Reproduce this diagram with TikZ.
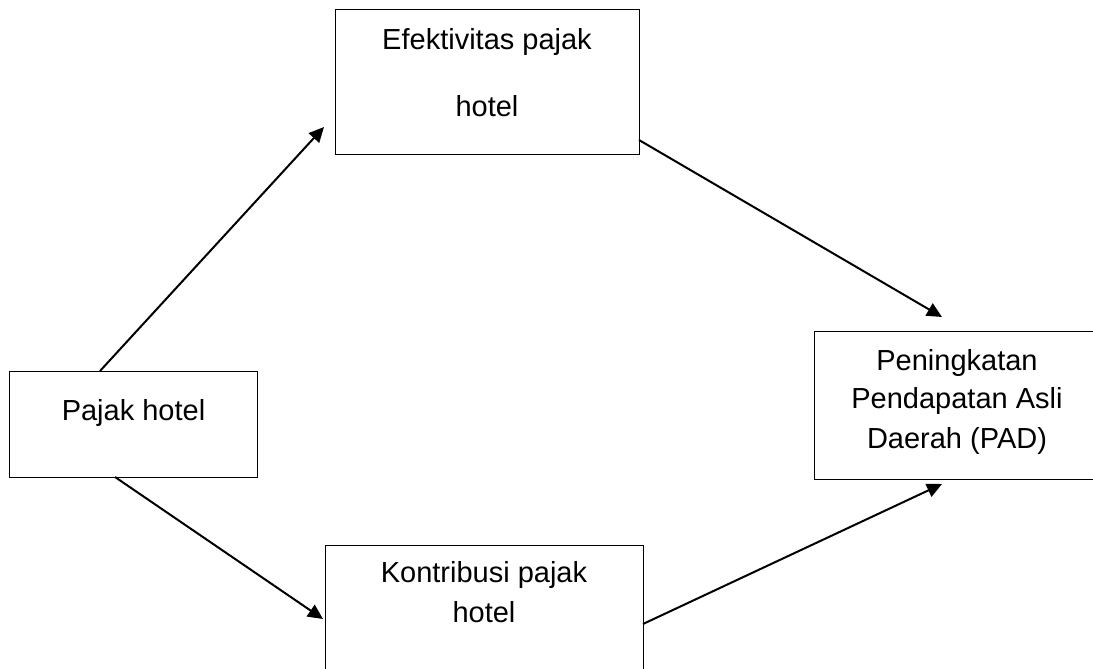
\documentclass[tikz,border=0pt]{standalone}
\usepackage{fontspec}
\setmainfont{Liberation Sans}
\usetikzlibrary{calc,arrows.meta}
\begin{document}
\begin{tikzpicture}[x=1pt,y=-1pt,
  box/.style={draw=black,line width=1pt,inner sep=0pt,outer sep=0pt},
  txt/.style={anchor=base,inner sep=0pt,font=\fontsize{29}{40}\selectfont},
  arr/.style={line width=2pt,-{Triangle[length=15pt,width=14pt]}}]
\clip (0,0) rectangle (1093,669);
\node[box,minimum width=304pt,minimum height=144pt] (E) at (487,82) {};
\node[box,minimum width=248pt,minimum height=106pt] (P) at (133,424) {};
\node[box,minimum width=318pt,minimum height=150pt] (K) at (484,620) {};
\node[box,minimum width=280pt,minimum height=148pt] (R) at (954,405) {};
% texts
\node[txt] (e1) at (487,50) {Efektivitas pajak};
\node[txt] (e2) at (487,116) {hotel};
\node[txt] (p1) at (133.5,420) {Pajak hotel};
\node[txt] (k1) at (484,582) {Kontribusi pajak};
\node[txt] (k2) at (484,622) {hotel};
\node[txt] (r1) at (957,370) {Peningkatan};
\node[txt] (r2) at (957,408) {Pendapatan Asli};
\node[txt] (r3) at (957,448) {Daerah (PAD)};
% connectors
\draw[arr] ($(P.north west)+(91,0)$) -- ($(E.north west)+(-11,117)$);
\draw[arr] ($(E.north east)+(0,130)$) -- ($(R.north west)+(128,-14)$);
\draw[arr] ($(P.south west)+(106,0)$) -- ($(K.north west)+(-2,74)$);
\draw[arr] ($(K.north east)+(0,79)$) -- ($(R.south west)+(128,5)$);
\end{tikzpicture}
\end{document}
